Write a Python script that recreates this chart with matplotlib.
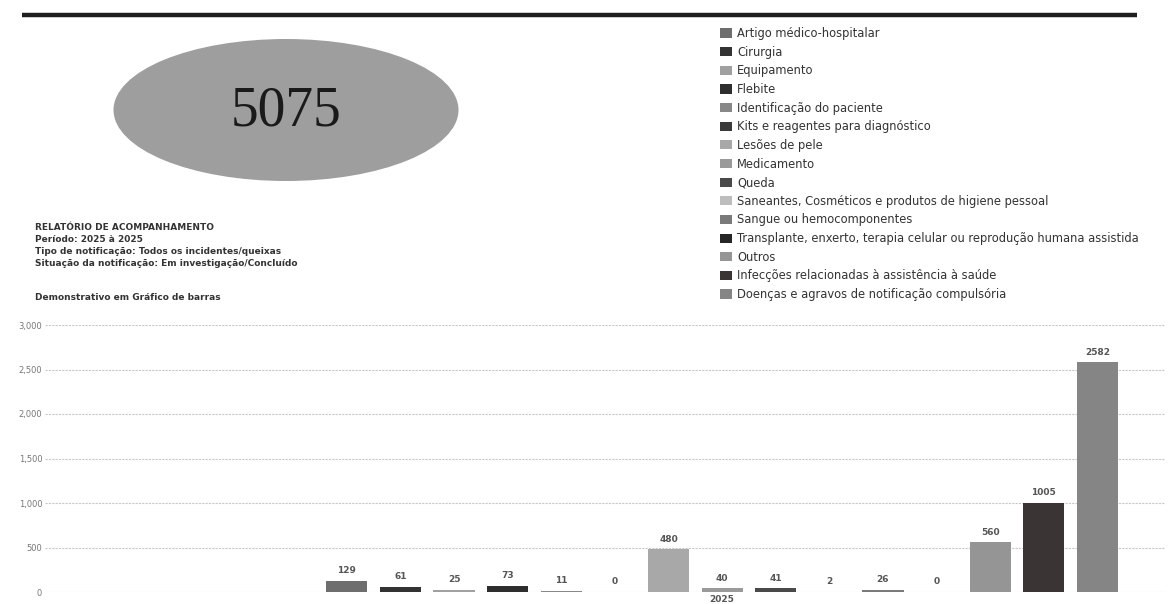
import matplotlib.pyplot as plt
from matplotlib.patches import Ellipse, Patch

# Dados
categorias = [
    "Artigo médico-hospitalar", "Cirurgia", "Equipamento", "Flebite",
    "Identificação do paciente", "Kits e reagentes para diagnóstico",
    "Lesões de pele", "Medicamento", "Queda",
    "Saneantes, Cosméticos e produtos de higiene pessoal",
    "Sangue ou hemocomponentes",
    "Transplante, enxerto, terapia celular ou reprodução humana assistida",
    "Outros", "Infecções relacionadas à assistência à saúde",
    "Doenças e agravos de notificação compulsória",
]
valores = [129, 61, 25, 73, 11, 0, 480, 40, 41, 2, 26, 0, 560, 1005, 2582]
cores = [
    "#6e6e6e", "#333333", "#a0a0a0", "#2e2e2e", "#888888", "#3a3a3a",
    "#a8a8a8", "#9a9a9a", "#4a4a4a", "#bdbdbd", "#7a7a7a", "#262626",
    "#959595", "#3a3434", "#858585",
]
total = 5075
ano = "2025"
y_ticks = [0, 500, 1000, 1500, 2000, 2500, 3000]

cabecalho = [
    "RELATÓRIO DE ACOMPANHAMENTO",
    "Período: 2025 à 2025",
    "Tipo de notificação: Todos os incidentes/queixas",
    "Situação da notificação: Em investigação/Concluído",
]

W, H = 1169, 604
fig = plt.figure(figsize=(W / 100, H / 100), dpi=100)
fig.patch.set_facecolor("white")

# Gráfico de barras
ax = fig.add_axes([45 / W, 1 - 592 / H, (1165 - 45) / W, (592 - 325) / H])
x = list(range(len(valores)))
bars = ax.bar(x, valores, width=0.77, color=cores, zorder=3)
for b, v in zip(bars, valores):
    ax.annotate(str(v), xy=(b.get_x() + b.get_width() / 2, v), xytext=(0, 4),
                textcoords="offset points", ha="center", va="bottom",
                fontsize=6.5, color="#555555", fontweight="bold")

ax.set_xlim(-5.63, 15.26)
ax.set_ylim(0, 3000)
ax.set_yticks(y_ticks)
ax.set_yticklabels([f"{t:,}" for t in y_ticks], fontsize=6, color="#777777")
ax.set_xticks([7])
ax.set_xticklabels([ano], fontsize=6.5, color="#555555", fontweight="bold")
ax.tick_params(length=0, pad=2)
ax.grid(axis="y", color="#c8c8c8", linestyle=(0, (2, 1)), linewidth=0.8, zorder=0)
for s in ax.spines.values():
    s.set_visible(False)

# Camada de anotações em coordenadas de pixel
ov = fig.add_axes([0, 0, 1, 1], zorder=5)
ov.set_xlim(0, W)
ov.set_ylim(H, 0)
ov.axis("off")
ov.patch.set_alpha(0)

ov.plot([22, 1137], [15, 15], color="#1e1e1e", linewidth=3.2, solid_capstyle="butt")
ov.add_patch(Ellipse((286, 110), 345, 142, facecolor="#9e9e9e", edgecolor="none"))
ov.text(286, 112, str(total), ha="center", va="center", fontsize=40,
        family="Liberation Serif", color="#1a1a1a")

for i, linha in enumerate(cabecalho):
    ov.text(35, 228 + i * 12, linha, ha="left", va="center", fontsize=6.5,
            color="#333333", fontweight="bold")
ov.text(35, 297, "Demonstrativo em Gráfico de barras", ha="left", va="center",
        fontsize=6.5, color="#333333", fontweight="bold")

handles = [Patch(facecolor=c, edgecolor="none") for c in cores]
fig.legend(handles, categorias, loc="upper left", bbox_to_anchor=(720 / W, 1 - 27 / H),
           frameon=False, fontsize=8.3, handlelength=1.05, handleheight=0.85,
           handletextpad=0.45, labelspacing=0.49, borderaxespad=0, borderpad=0,
           labelcolor="#333333")

fig.savefig("out.png", dpi=100, facecolor="white")
